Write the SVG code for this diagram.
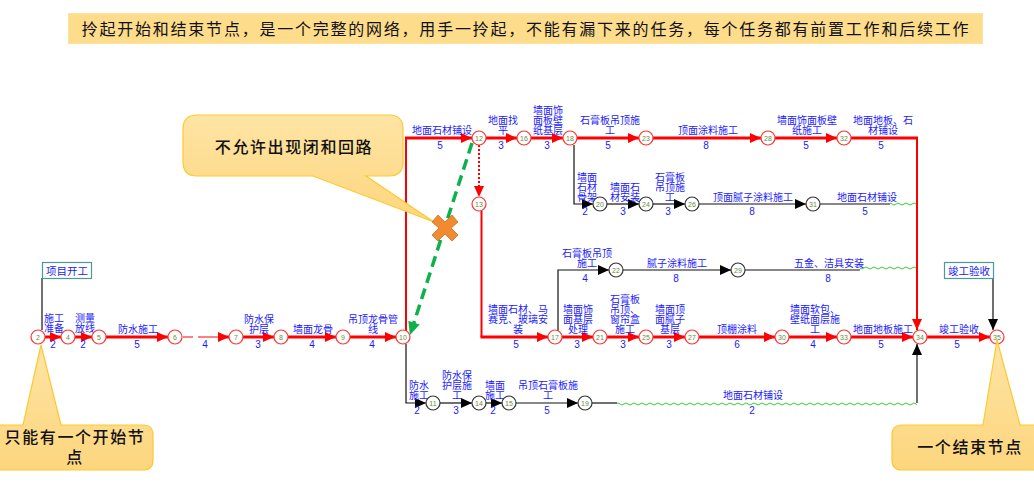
<svg xmlns="http://www.w3.org/2000/svg" width="1034" height="498" viewBox="0 0 1034 498">
<style>
text{font-family:"Noto Sans CJK SC","Liberation Sans",sans-serif}
.l{font-size:10px;fill:#1a1aff;text-anchor:middle}
.d{font-family:"Liberation Sans",sans-serif;font-size:10px;fill:#1a1aff;text-anchor:middle}
.c{font-size:16px;letter-spacing:1.6px;fill:#111;text-anchor:middle;font-weight:500}
.red{fill:none;stroke:#f00;stroke-width:3}
.rv{fill:none;stroke:#f00;stroke-width:2}
.blk{fill:none;stroke:#111;stroke-width:1.2}
.node circle{fill:#fff;stroke-width:1.2}
.r circle{stroke:#f33}
.k circle{stroke:#333}
.node text{font-family:"Liberation Sans",sans-serif;font-size:7px;fill:#6a8a3a;text-anchor:middle}
.call{fill:url(#cg);stroke:#fdc92f;stroke-width:1.2}
.tag rect{fill:#fff;stroke:#4a9a9a;stroke-width:1.2}
</style>
<defs>
<linearGradient id="cg" x1="0" y1="0" x2="0" y2="1"><stop offset="0" stop-color="#fee4a4"/><stop offset="1" stop-color="#fdd67e"/></linearGradient>
<marker id="ar" markerUnits="userSpaceOnUse" markerWidth="12" markerHeight="10" refX="11" refY="5" orient="auto"><path d="M0 0L11 5L0 10z" fill="#f00"/></marker>
<marker id="ak" markerUnits="userSpaceOnUse" markerWidth="12" markerHeight="10" refX="11" refY="5" orient="auto"><path d="M0 0L11 5L0 10z" fill="#000"/></marker>
<marker id="ag" markerUnits="userSpaceOnUse" markerWidth="14" markerHeight="12" refX="13" refY="6" orient="auto"><path d="M0 0L13 6L0 12z" fill="#0db14b"/></marker>
<pattern id="wv" patternUnits="userSpaceOnUse" x="0" y="0" width="8" height="8"><path d="M0 4Q2 2 4 4T8 4" fill="none" stroke="#3c3" stroke-width="1"/></pattern>
</defs>

<g id="banner"><rect x="68.500" y="13.500" width="914" height="30" fill="#fddc8c" stroke="#fde29c"/><text x="526" y="35" style="font-size:16px;letter-spacing:1.77px;fill:#111;text-anchor:middle">拎起开始和结束节点，是一个完整的网络，用手一拎起，不能有漏下来的任务，每个任务都有前置工作和后续工作</text></g>

<g id="connectors">
<path class="red" marker-end="url(#ar)" d="M45 337H61"/>
<path class="red" marker-end="url(#ar)" d="M75 337H92"/>
<path class="red" marker-end="url(#ar)" d="M106 337H168"/>
<path d="M183 337H193M198 337H220" stroke="#f00" stroke-width="1" fill="none"/>
<path class="red" marker-end="url(#ar)" d="M220 337H229"/>
<path class="red" marker-end="url(#ar)" d="M243 337H274"/>
<path class="red" marker-end="url(#ar)" d="M288 337H336"/>
<path class="red" marker-end="url(#ar)" d="M350 337H396"/>
<path class="rv" d="M406 331V138"/>
<path class="red" marker-end="url(#ar)" d="M405 138H472"/>
<path class="red" marker-end="url(#ar)" d="M486 138H517"/>
<path class="red" marker-end="url(#ar)" d="M531 138H563"/>
<path class="red" marker-end="url(#ar)" d="M577 138H639"/>
<path class="red" marker-end="url(#ar)" d="M653 138H761"/>
<path class="red" marker-end="url(#ar)" d="M775 138H837"/>
<path class="red" d="M851 138H918"/>
<path class="rv" marker-end="url(#ar)" d="M917 138V330"/>
<path d="M479 145V197" fill="none" stroke="#f00" stroke-width="2" stroke-dasharray="2 2" marker-end="url(#ar)"/>
<path class="rv" d="M481.500 211V337"/>
<path class="red" marker-end="url(#ar)" d="M480.500 337H548"/>
<path class="red" marker-end="url(#ar)" d="M562 337H593"/>
<path class="red" marker-end="url(#ar)" d="M607 337H639"/>
<path class="red" marker-end="url(#ar)" d="M653 337H685"/>
<path class="red" marker-end="url(#ar)" d="M699 337H775"/>
<path class="red" marker-end="url(#ar)" d="M789 337H837"/>
<path class="red" marker-end="url(#ar)" d="M851 337H913"/>
<path class="red" marker-end="url(#ar)" d="M927 337H990"/>
<path class="blk" marker-end="url(#ak)" d="M406 344V403H426"/>
<path class="blk" marker-end="url(#ak)" d="M440 403H472"/>
<path class="blk" marker-end="url(#ak)" d="M486 403H502"/>
<path class="blk" marker-end="url(#ak)" d="M516 403H578"/>
<path class="blk" d="M592 403H617"/>
<rect x="617" y="399" width="300" height="8" fill="url(#wv)"/>
<path class="blk" marker-end="url(#ak)" d="M917 403V344"/>
<path class="blk" marker-end="url(#ak)" d="M574 145V204H593"/>
<path class="blk" marker-end="url(#ak)" d="M607 204H639"/>
<path class="blk" marker-end="url(#ak)" d="M653 204H685"/>
<path class="blk" marker-end="url(#ak)" d="M699 204H806"/>
<path class="blk" d="M820 204H890"/>
<rect x="890" y="200" width="26" height="8" fill="url(#wv)"/>
<path class="blk" marker-end="url(#ak)" d="M558 331V270H609"/>
<path class="blk" marker-end="url(#ak)" d="M623 270H731"/>
<path class="blk" d="M745 270H860"/>
<rect x="860" y="266" width="56" height="8" fill="url(#wv)"/>
<path class="blk" d="M42 278V330"/>
<path class="blk" marker-end="url(#ak)" d="M993 278V330"/>
<path d="M472 143L410 335" fill="none" stroke="#0db14b" stroke-width="3.500" stroke-dasharray="11 6" marker-end="url(#ag)"/>

<g id="labels">
<text class="l" x="54" y="322">施工</text><text class="l" x="54" y="332">准备</text><text class="d" x="53" y="348">2</text>
<text class="l" x="85" y="322">测量</text><text class="l" x="85" y="332">放线</text><text class="d" x="83" y="348">2</text>
<text class="l" x="138" y="333">防水施工</text><text class="d" x="137" y="348">5</text>
<text class="d" x="205" y="348">4</text>
<text class="l" x="259" y="323">防水保</text><text class="l" x="259" y="333">护层</text><text class="d" x="258" y="348">3</text>
<text class="l" x="313" y="333">墙面龙骨</text><text class="d" x="312" y="348">4</text>
<text class="l" x="373" y="323">吊顶龙骨管</text><text class="l" x="373" y="333">线</text><text class="d" x="372" y="348">4</text>
<text class="l" x="419" y="389">防水</text><text class="l" x="419" y="399">施工</text><text class="d" x="417" y="414">2</text>
<text class="l" x="457" y="379">防水保</text><text class="l" x="457" y="389">护层施</text><text class="l" x="457" y="399">工</text><text class="d" x="456" y="414">3</text>
<text class="l" x="495" y="389">墙面</text><text class="l" x="495" y="399">施工</text><text class="d" x="493" y="414">2</text>
<text class="l" x="548" y="389">吊顶石膏板施</text><text class="l" x="548" y="399">工</text><text class="d" x="547" y="414">5</text>
<text class="l" x="753" y="399">地面石材铺设</text><text class="d" x="752" y="414">2</text>
<text class="l" x="442" y="134">地面石材铺设</text><text class="d" x="440" y="149">5</text>
<text class="l" x="503" y="124">地面找</text><text class="l" x="503" y="134">平</text><text class="d" x="501" y="149">3</text>
<text class="l" x="548" y="114">墙面饰</text><text class="l" x="548" y="124">面板壁</text><text class="l" x="548" y="134">纸基层</text><text class="d" x="547" y="149">3</text>
<text class="l" x="610" y="124">石膏板吊顶施</text><text class="l" x="610" y="134">工</text><text class="d" x="608" y="149">5</text>
<text class="l" x="708" y="134">顶面涂料施工</text><text class="d" x="706" y="149">8</text>
<text class="l" x="807" y="124">墙面饰面板壁</text><text class="l" x="807" y="134">纸施工</text><text class="d" x="806" y="149">5</text>
<text class="l" x="883" y="124">地面地板、石</text><text class="l" x="883" y="134">材铺设</text><text class="d" x="881" y="149">5</text>
<text class="l" x="587" y="181">墙面</text><text class="l" x="587" y="191">石材</text><text class="l" x="587" y="201">骨架</text><text class="d" x="585" y="215">2</text>
<text class="l" x="625" y="191">墙面石</text><text class="l" x="625" y="201">材安装</text><text class="d" x="623" y="215">3</text>
<text class="l" x="670" y="181">石膏板</text><text class="l" x="670" y="191">吊顶施</text><text class="l" x="670" y="201">工</text><text class="d" x="668" y="215">3</text>
<text class="l" x="753" y="201">顶面腻子涂料施工</text><text class="d" x="752" y="215">8</text>
<text class="l" x="867" y="201">地面石材铺设</text><text class="d" x="865" y="215">5</text>
<text class="l" x="587" y="257">石膏板吊顶</text><text class="l" x="587" y="267">施工</text><text class="d" x="585" y="282">4</text>
<text class="l" x="677" y="267">腻子涂料施工</text><text class="d" x="676" y="282">8</text>
<text class="l" x="829" y="267">五金、洁具安装</text><text class="d" x="828" y="282">8</text>
<text class="l" x="518" y="313">墙面石材、马</text><text class="l" x="518" y="323">赛克、玻璃安</text><text class="l" x="518" y="333">装</text><text class="d" x="516" y="348">5</text>
<text class="l" x="578" y="313">墙面饰</text><text class="l" x="578" y="323">面基层</text><text class="l" x="578" y="333">处理</text><text class="d" x="577" y="348">3</text>
<text class="l" x="625" y="303">石膏板</text><text class="l" x="625" y="313">吊顶、</text><text class="l" x="625" y="323">窗帘盒</text><text class="l" x="625" y="333">施工</text><text class="d" x="623" y="348">3</text>
<text class="l" x="670" y="313">墙面顶</text><text class="l" x="670" y="323">面腻子</text><text class="l" x="670" y="333">基层</text><text class="d" x="669" y="348">3</text>
<text class="l" x="737" y="333">顶棚涂料</text><text class="d" x="737" y="348">6</text>
<text class="l" x="815" y="313">墙面软包、</text><text class="l" x="815" y="323">壁纸面层施</text><text class="l" x="815" y="333">工</text><text class="d" x="813" y="348">4</text>
<text class="l" x="883" y="333">地面地板施工</text><text class="d" x="881" y="348">5</text>
<text class="l" x="959" y="333">竣工验收</text><text class="d" x="957" y="348">5</text>
</g>
</g>

<g id="n2" class="node r"><circle cx="38" cy="337" r="7"/><text x="38" y="339.500">2</text></g>
<g id="n4" class="node r"><circle cx="68" cy="337" r="7"/><text x="68" y="339.500">4</text></g>
<g id="n5" class="node r"><circle cx="99" cy="337" r="7"/><text x="99" y="339.500">5</text></g>
<g id="n6" class="node r"><circle cx="175" cy="337" r="7"/><text x="175" y="339.500">6</text></g>
<g id="n7" class="node r"><circle cx="236" cy="337" r="7"/><text x="236" y="339.500">7</text></g>
<g id="n8" class="node r"><circle cx="281" cy="337" r="7"/><text x="281" y="339.500">8</text></g>
<g id="n9" class="node r"><circle cx="343" cy="337" r="7"/><text x="343" y="339.500">9</text></g>
<g id="n10" class="node r"><circle cx="403" cy="337" r="7"/><text x="403" y="339.500">10</text></g>
<g id="n12" class="node r"><circle cx="479" cy="138" r="7"/><text x="479" y="140.500">12</text></g>
<g id="n16" class="node r"><circle cx="524" cy="138" r="7"/><text x="524" y="140.500">16</text></g>
<g id="n18" class="node r"><circle cx="570" cy="138" r="7"/><text x="570" y="140.500">18</text></g>
<g id="n23" class="node r"><circle cx="646" cy="138" r="7"/><text x="646" y="140.500">23</text></g>
<g id="n28" class="node r"><circle cx="768" cy="138" r="7"/><text x="768" y="140.500">28</text></g>
<g id="n32" class="node r"><circle cx="844" cy="138" r="7"/><text x="844" y="140.500">32</text></g>
<g id="n13" class="node r"><circle cx="479" cy="204" r="7"/><text x="479" y="206.500">13</text></g>
<g id="n20" class="node k"><circle cx="600" cy="204" r="7"/><text x="600" y="206.500">20</text></g>
<g id="n24" class="node k"><circle cx="646" cy="204" r="7"/><text x="646" y="206.500">24</text></g>
<g id="n26" class="node k"><circle cx="692" cy="204" r="7"/><text x="692" y="206.500">26</text></g>
<g id="n31" class="node k"><circle cx="813" cy="204" r="7"/><text x="813" y="206.500">31</text></g>
<g id="n22" class="node k"><circle cx="616" cy="270" r="7"/><text x="616" y="272.500">22</text></g>
<g id="n29" class="node k"><circle cx="738" cy="270" r="7"/><text x="738" y="272.500">29</text></g>
<g id="n17" class="node r"><circle cx="555" cy="337" r="7"/><text x="555" y="339.500">17</text></g>
<g id="n21" class="node r"><circle cx="600" cy="337" r="7"/><text x="600" y="339.500">21</text></g>
<g id="n25" class="node r"><circle cx="646" cy="337" r="7"/><text x="646" y="339.500">25</text></g>
<g id="n27" class="node r"><circle cx="692" cy="337" r="7"/><text x="692" y="339.500">27</text></g>
<g id="n30" class="node r"><circle cx="782" cy="337" r="7"/><text x="782" y="339.500">30</text></g>
<g id="n33" class="node r"><circle cx="844" cy="337" r="7"/><text x="844" y="339.500">33</text></g>
<g id="n34" class="node r"><circle cx="920" cy="337" r="7"/><text x="920" y="339.500">34</text></g>
<g id="n35" class="node r"><circle cx="997" cy="337" r="7"/><text x="997" y="339.500">35</text></g>
<g id="n11" class="node k"><circle cx="433" cy="403" r="7"/><text x="433" y="405.500">11</text></g>
<g id="n14" class="node k"><circle cx="479" cy="403" r="7"/><text x="479" y="405.500">14</text></g>
<g id="n15" class="node k"><circle cx="509" cy="403" r="7"/><text x="509" y="405.500">15</text></g>
<g id="n19" class="node k"><circle cx="585" cy="403" r="7"/><text x="585" y="405.500">19</text></g>

<g id="tag-start" class="tag"><rect x="42.500" y="262.500" width="49" height="16"/><text class="l" x="67" y="274.500" style="font-size:10.500px">项目开工</text></g>
<g id="tag-end" class="tag"><rect x="944.500" y="262.500" width="49" height="16"/><text class="l" x="969" y="274.500" style="font-size:10.500px">竣工验收</text></g>

<g id="callout-loop">
<path class="call" d="M197 115H389Q403 115 403 129V162Q403 176 389 176H366L434 222L313 176H197Q183 176 183 162V129Q183 115 197 115Z"/>
<text class="c" x="294" y="153">不允许出现闭和回路</text>
<path d="M438 215L445 222L452 215L458 222L451 228L458 235L452 241L445 234L438 241L432 235L439 228L432 222Z" fill="#f28a30" stroke="#c8702a" stroke-width="0.800"/>
</g>
<g id="callout-start">
<path class="call" d="M-5 425H23L41 345L61 425H143Q153 425 153 435V460Q153 470 143 470H-5Z"/>
<text class="c" x="75" y="443">只能有一个开始节</text><text class="c" x="75" y="463">点</text>
</g>
<g id="callout-end">
<path class="call" d="M1040 425H1020L997 340L983 425H902Q892 425 892 435V460Q892 470 902 470H1040Z"/>
<text class="c" x="970" y="453">一个结束节点</text>
</g>
</svg>
